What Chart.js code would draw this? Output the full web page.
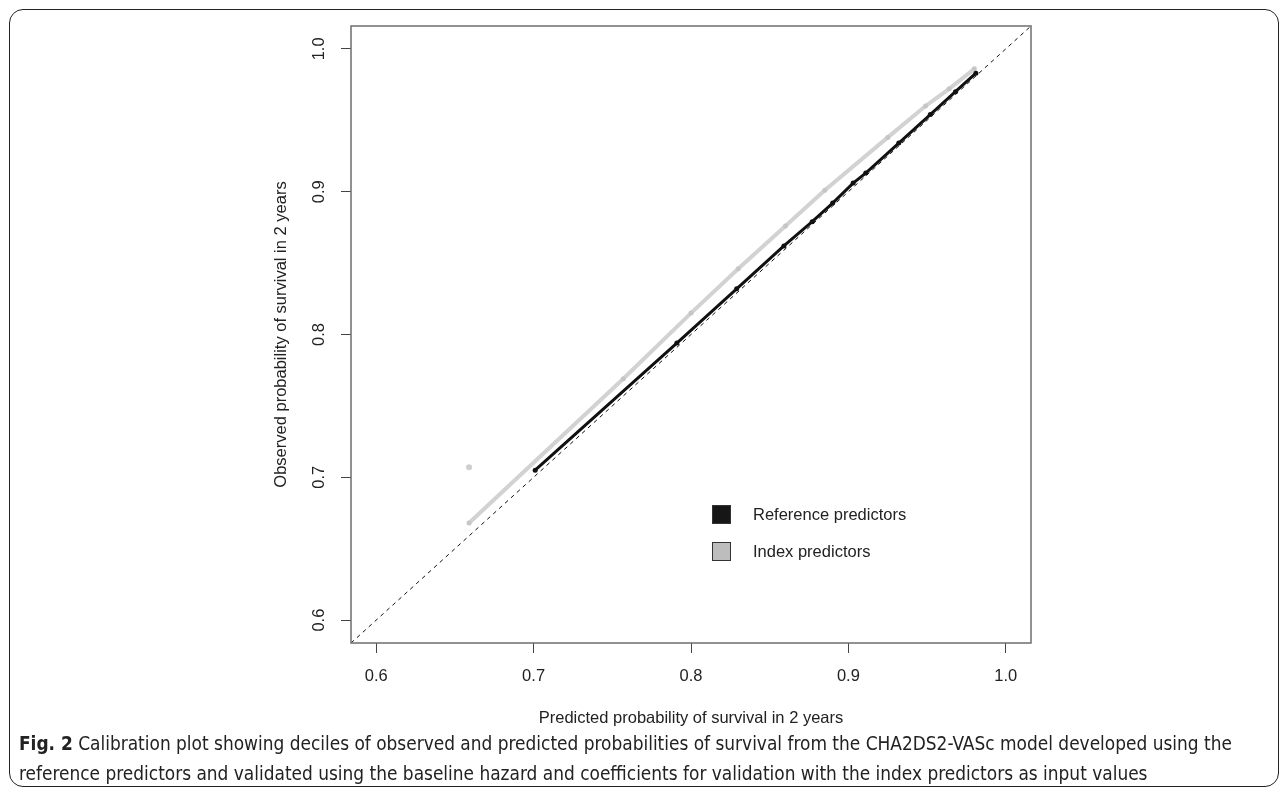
<!DOCTYPE html>
<html>
<head>
<meta charset="utf-8">
<script src="https://cdn.jsdelivr.net/npm/chart.js@4.4.1/dist/chart.umd.min.js"></script>
<style>
  body { margin: 0; background: #fff; width: 1287px; height: 795px; overflow: hidden; position: relative; }
  #frame { position: absolute; left: 9px; top: 9px; width: 1268px; height: 776px; border: 1.5px solid #222; border-radius: 14px; }
  #grafico { position: absolute; left: 0; top: 0; }
  #caption { position: absolute; left: 19px; top: 728px; width: 1250px; font-family: "Liberation Sans Narrow", "DejaVu Sans Condensed", sans-serif; font-size: 18.9px; line-height: 30px; color: #222; }
  #caption b { font-weight: bold; }
</style>
</head>
<body>
<div id="frame"></div>
<canvas id="grafico" width="1287" height="740"></canvas>
<div id="caption"><b>Fig. 2</b> Calibration plot showing deciles of observed and predicted probabilities of survival from the CHA2DS2-VASc model developed using the reference predictors and validated using the baseline hazard and coefficients for validation with the index predictors as input values</div>
<script>
// Dados
const predRef = [0.701, 0.791, 0.829, 0.859, 0.877, 0.890, 0.903, 0.911, 0.932, 0.952, 0.968, 0.981];
const obsRef  = [0.705, 0.794, 0.832, 0.862, 0.879, 0.892, 0.906, 0.913, 0.934, 0.954, 0.970, 0.983];

const predIdx = [0.659, 0.757, 0.800, 0.830, 0.860, 0.885, 0.925, 0.949, 0.964, 0.980];
const obsIdx  = [0.668, 0.769, 0.815, 0.846, 0.876, 0.901, 0.938, 0.960, 0.972, 0.986];

// ponto isolado (cinza)
const predIdxSolto = [0.659];
const obsIdxSolto  = [0.707];

// diagonal de referência
const diagonal = [0.584, 1.016];

const tickValues = [0.6, 0.7, 0.8, 0.9, 1.0];
const legendLabels = ['Reference predictors', 'Index predictors'];

function toPoints(xs, ys) {
    return xs.map((x, i) => ({ x: x, y: ys[i] }));
}

const fonte = { family: 'Liberation Sans, Arial, sans-serif', size: 16.5 };

// Caixa em volta do gráfico (estilo R)
const caixaPlugin = {
    id: 'caixa',
    afterDraw(chart) {
        const a = chart.chartArea;
        const ctx = chart.ctx;
        ctx.save();
        ctx.strokeStyle = '#6e6e6e';
        ctx.lineWidth = 1.5;
        ctx.strokeRect(a.left, a.top, a.right - a.left, a.bottom - a.top);
        ctx.restore();
    }
};

// Legenda dentro da área do gráfico
const legendaPlugin = {
    id: 'legendaDentro',
    afterDraw(chart) {
        const ctx = chart.ctx;
        const cores = ['#161616', '#bdbdbd'];
        ctx.save();
        ctx.font = '16.5px Liberation Sans, Arial, sans-serif';
        ctx.textBaseline = 'middle';
        legendLabels.forEach((txt, i) => {
            const y = 505 + i * 37;
            ctx.fillStyle = cores[i];
            ctx.fillRect(712, y, 19, 19);
            ctx.strokeStyle = '#333';
            ctx.lineWidth = 1;
            ctx.strokeRect(712.5, y + 0.5, 18, 18);
            ctx.fillStyle = '#222';
            ctx.fillText(txt, 753, y + 10);
        });
        ctx.restore();
    }
};

const ctx = document.getElementById('grafico').getContext('2d');
new Chart(ctx, {
    type: 'scatter',
    data: {
        datasets: [
            {
                label: 'diagonal',
                data: toPoints(diagonal, diagonal),
                showLine: true,
                borderColor: '#111',
                borderWidth: 1,
                borderDash: [4, 4],
                pointRadius: 0,
                order: 4
            },
            {
                label: legendLabels[1],
                data: toPoints(predIdx, obsIdx),
                showLine: true,
                borderColor: '#d2d2d2',
                borderWidth: 4,
                pointRadius: 2.5,
                pointBackgroundColor: '#c6c6c6',
                pointBorderWidth: 0,
                order: 3
            },
            {
                label: 'solto',
                data: toPoints(predIdxSolto, obsIdxSolto),
                showLine: false,
                pointRadius: 3,
                pointBackgroundColor: '#cfcfcf',
                pointBorderWidth: 0,
                order: 2
            },
            {
                label: legendLabels[0],
                data: toPoints(predRef, obsRef),
                showLine: true,
                borderColor: '#111',
                borderWidth: 3,
                pointRadius: 2.5,
                pointBackgroundColor: '#111',
                pointBorderWidth: 0,
                order: 1
            }
        ]
    },
    options: {
        responsive: false,
        animation: false,
        devicePixelRatio: 1,
        layout: { padding: { left: 260, right: 256, top: 26, bottom: 0 } },
        plugins: {
            legend: { display: false },
            tooltip: { enabled: false }
        },
        scales: {
            x: {
                type: 'linear',
                min: 0.584,
                max: 1.016,
                afterBuildTicks(scale) { scale.ticks = tickValues.map(v => ({ value: v })); },
                afterFit(scale) { scale.height = 97; },
                ticks: {
                    font: fonte,
                    color: '#222',
                    padding: 14,
                    callback: v => v.toFixed(1)
                },
                grid: { drawOnChartArea: false, tickLength: 10, color: '#444', lineWidth: 1 },
                border: { display: false },
                title: {
                    display: true,
                    text: 'Predicted probability of survival in 2 years',
                    font: fonte,
                    color: '#222',
                    padding: { top: 0, bottom: 12 }
                }
            },
            y: {
                type: 'linear',
                min: 0.584,
                max: 1.016,
                afterBuildTicks(scale) { scale.ticks = tickValues.map(v => ({ value: v })); },
                afterFit(scale) { scale.width = 91; },
                ticks: {
                    font: fonte,
                    color: '#222',
                    padding: 10,
                    minRotation: 90,
                    maxRotation: 90,
                    crossAlign: 'center',
                    callback: v => v.toFixed(1)
                },
                grid: { drawOnChartArea: false, tickLength: 10, color: '#444', lineWidth: 1 },
                border: { display: false },
                title: {
                    display: true,
                    text: 'Observed probability of survival in 2 years',
                    font: fonte,
                    color: '#222',
                    padding: { top: 12, bottom: 0 }
                }
            }
        }
    },
    plugins: [caixaPlugin, legendaPlugin]
});
</script>
</body>
</html>
